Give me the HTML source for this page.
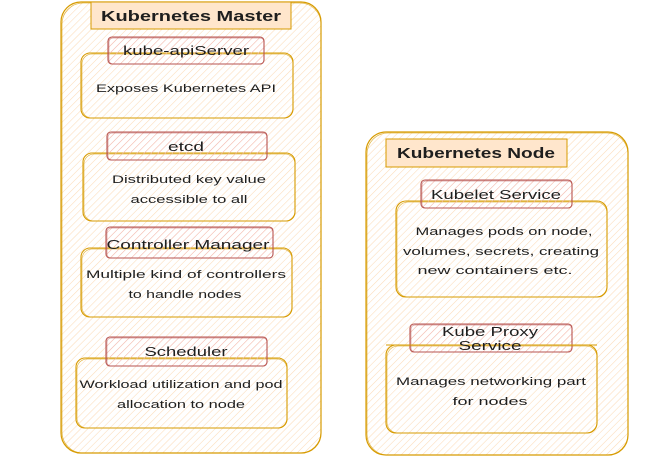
<!DOCTYPE html>
<html><head><meta charset="utf-8"><style>
html,body{margin:0;padding:0;background:#fff;}
svg{display:block;}
text{font-family:"Liberation Sans",sans-serif;fill:#1e1e1e;}
</style></head><body>
<svg width="659" height="462" viewBox="0 0 659 462" xmlns="http://www.w3.org/2000/svg">
<defs>
<pattern id="ho" width="5" height="5" patternUnits="userSpaceOnUse" patternTransform="rotate(45)">
<rect width="5" height="5" fill="#fff"/>
<line x1="0" y1="0" x2="0" y2="5" stroke="#fcdcb8" stroke-width="1.1"/>
</pattern>
<pattern id="hr" width="5" height="5" patternUnits="userSpaceOnUse" patternTransform="rotate(45)">
<line x1="0" y1="0" x2="0" y2="5" stroke="#f3b9b6" stroke-width="1"/>
</pattern>
</defs>

<!-- Master container -->
<rect x="61" y="2" width="260" height="451" rx="20" fill="url(#ho)" stroke="#d79b00" stroke-width="1.2"/>
<rect x="62" y="3" width="259" height="450" rx="21" fill="none" stroke="#d79b00" stroke-width="0.8" opacity="0.7"/>
<rect x="91" y="2" width="200" height="27" fill="#ffe6cc" stroke="#d79b00" stroke-width="1"/>
<text x="191" y="21" font-size="15" font-weight="bold" text-anchor="middle" textLength="180" lengthAdjust="spacingAndGlyphs">Kubernetes Master</text>

<!-- apiServer -->
<rect x="81" y="53" width="212" height="65" rx="9" fill="url(#ho)" stroke="#d79b00" stroke-width="1.1"/>
<rect x="82" y="54" width="211" height="64" rx="10" fill="none" stroke="#d79b00" stroke-width="0.7" opacity="0.7"/>
<rect x="108" y="37" width="156" height="27" rx="4" fill="url(#hr)" stroke="#b85450" stroke-width="1.1"/>
<rect x="109" y="38" width="155" height="26" rx="4" fill="none" stroke="#b85450" stroke-width="0.7" opacity="0.6"/>
<text x="186" y="55" font-size="13" text-anchor="middle" textLength="126" lengthAdjust="spacingAndGlyphs">kube-apiServer</text>
<text x="186" y="92" font-size="11" text-anchor="middle" textLength="180" lengthAdjust="spacingAndGlyphs">Exposes Kubernetes API</text>

<!-- etcd -->
<rect x="83" y="153" width="212" height="68" rx="9" fill="url(#ho)" stroke="#d79b00" stroke-width="1.1"/>
<rect x="84" y="154" width="211" height="67" rx="10" fill="none" stroke="#d79b00" stroke-width="0.7" opacity="0.7"/>
<rect x="107" y="132" width="160" height="28" rx="4" fill="url(#hr)" stroke="#b85450" stroke-width="1.1"/>
<rect x="108" y="133" width="159" height="27" rx="4" fill="none" stroke="#b85450" stroke-width="0.7" opacity="0.6"/>
<text x="186" y="151" font-size="13" text-anchor="middle" textLength="36" lengthAdjust="spacingAndGlyphs">etcd</text>
<text x="189" y="183" font-size="11" text-anchor="middle" textLength="154" lengthAdjust="spacingAndGlyphs">Distributed key value</text>
<text x="189" y="203" font-size="11" text-anchor="middle" textLength="117" lengthAdjust="spacingAndGlyphs">accessible to all</text>

<!-- Controller Manager -->
<rect x="81" y="248" width="211" height="69" rx="9" fill="url(#ho)" stroke="#d79b00" stroke-width="1.1"/>
<rect x="82" y="249" width="210" height="68" rx="10" fill="none" stroke="#d79b00" stroke-width="0.7" opacity="0.7"/>
<rect x="106" y="227" width="167" height="31" rx="4" fill="url(#hr)" stroke="#b85450" stroke-width="1.1"/>
<rect x="107" y="228" width="166" height="30" rx="4" fill="none" stroke="#b85450" stroke-width="0.7" opacity="0.6"/>
<text x="188" y="249" font-size="13" text-anchor="middle" textLength="163" lengthAdjust="spacingAndGlyphs">Controller Manager</text>
<text x="186" y="278" font-size="11" text-anchor="middle" textLength="200" lengthAdjust="spacingAndGlyphs">Multiple kind of controllers</text>
<text x="185" y="298" font-size="11" text-anchor="middle" textLength="113" lengthAdjust="spacingAndGlyphs">to handle nodes</text>

<!-- Scheduler -->
<rect x="76" y="358" width="211" height="70" rx="9" fill="url(#ho)" stroke="#d79b00" stroke-width="1.1"/>
<rect x="77" y="359" width="210" height="69" rx="10" fill="none" stroke="#d79b00" stroke-width="0.7" opacity="0.7"/>
<rect x="106" y="337" width="161" height="29" rx="4" fill="url(#hr)" stroke="#b85450" stroke-width="1.1"/>
<rect x="107" y="338" width="160" height="28" rx="4" fill="none" stroke="#b85450" stroke-width="0.7" opacity="0.6"/>
<text x="186" y="356" font-size="13" text-anchor="middle" textLength="83" lengthAdjust="spacingAndGlyphs">Scheduler</text>
<text x="181" y="388" font-size="11" text-anchor="middle" textLength="203" lengthAdjust="spacingAndGlyphs">Workload utilization and pod</text>
<text x="181" y="408" font-size="11" text-anchor="middle" textLength="128" lengthAdjust="spacingAndGlyphs">allocation to node</text>

<!-- Node container -->
<rect x="366" y="132" width="262" height="323" rx="20" fill="url(#ho)" stroke="#d79b00" stroke-width="1.2"/>
<rect x="367" y="133" width="261" height="322" rx="21" fill="none" stroke="#d79b00" stroke-width="0.8" opacity="0.7"/>
<rect x="386" y="139" width="181" height="28" fill="#ffe6cc" stroke="#d79b00" stroke-width="1"/>
<text x="476" y="158" font-size="15" font-weight="bold" text-anchor="middle" textLength="158" lengthAdjust="spacingAndGlyphs">Kubernetes Node</text>

<!-- Kubelet -->
<rect x="396" y="201" width="211" height="96" rx="10" fill="url(#ho)" stroke="#d79b00" stroke-width="1.1"/>
<rect x="397" y="202" width="210" height="95" rx="11" fill="none" stroke="#d79b00" stroke-width="0.7" opacity="0.7"/>
<rect x="421" y="180" width="151" height="28" rx="4" fill="url(#hr)" stroke="#b85450" stroke-width="1.1"/>
<rect x="422" y="181" width="150" height="27" rx="4" fill="none" stroke="#b85450" stroke-width="0.7" opacity="0.6"/>
<text x="496" y="199" font-size="13" text-anchor="middle" textLength="130" lengthAdjust="spacingAndGlyphs">Kubelet Service</text>
<text x="504" y="235" font-size="11" text-anchor="middle" textLength="177" lengthAdjust="spacingAndGlyphs">Manages pods on node,</text>
<text x="501" y="255" font-size="11" text-anchor="middle" textLength="196" lengthAdjust="spacingAndGlyphs">volumes, secrets, creating</text>
<text x="495" y="274" font-size="11" text-anchor="middle" textLength="155" lengthAdjust="spacingAndGlyphs">new containers etc.</text>

<!-- Kube Proxy -->
<rect x="386" y="345" width="211" height="88" rx="10" fill="url(#ho)" stroke="#d79b00" stroke-width="1.1"/>
<rect x="387" y="346" width="210" height="87" rx="11" fill="none" stroke="#d79b00" stroke-width="0.7" opacity="0.7"/>
<rect x="410" y="324" width="162" height="28" rx="4" fill="url(#hr)" stroke="#b85450" stroke-width="1.1"/>
<rect x="411" y="325" width="161" height="27" rx="4" fill="none" stroke="#b85450" stroke-width="0.7" opacity="0.6"/>
<line x1="386" y1="345" x2="597" y2="345" stroke="#d79b00" stroke-width="1"/>
<text x="490" y="336" font-size="13" text-anchor="middle" textLength="96" lengthAdjust="spacingAndGlyphs">Kube Proxy</text>
<text x="490" y="350" font-size="13" text-anchor="middle" textLength="63" lengthAdjust="spacingAndGlyphs">Service</text>
<text x="491" y="385" font-size="11" text-anchor="middle" textLength="190" lengthAdjust="spacingAndGlyphs">Manages networking part</text>
<text x="490" y="405" font-size="11" text-anchor="middle" textLength="75" lengthAdjust="spacingAndGlyphs">for nodes</text>
</svg>
</body></html>
